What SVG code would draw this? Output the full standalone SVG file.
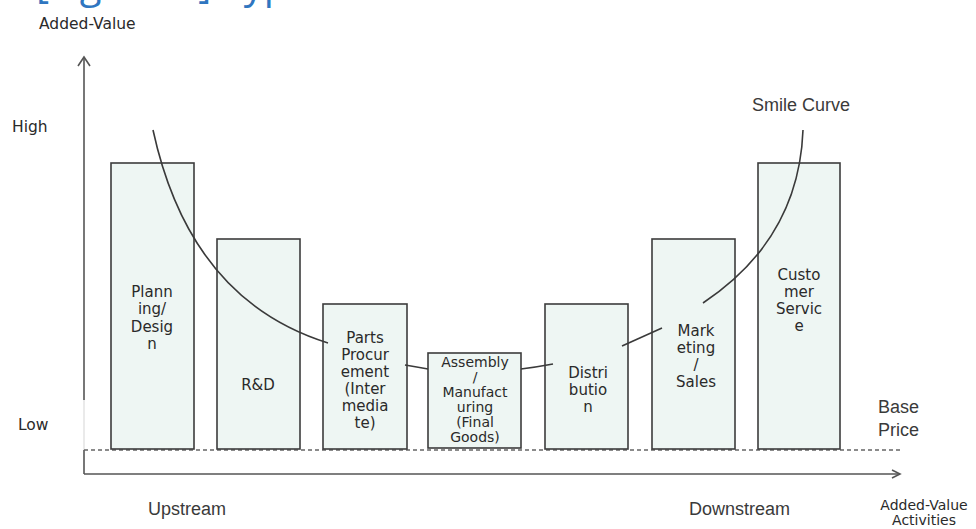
<svg xmlns="http://www.w3.org/2000/svg" width="976" height="529" viewBox="0 0 976 529">
<defs>
<style>
.bar{fill:#eef6f3;stroke:#3c3c3c;stroke-width:1.6}
.lbl{font-family:"DejaVu Sans","Noto Sans",sans-serif;font-size:15px;fill:#2a2a2a;text-anchor:middle}
.ax{font-family:"DejaVu Sans","Noto Sans",sans-serif;font-size:15.5px;fill:#2a2a2a}
.gl{font-family:"Liberation Sans",Arial,sans-serif;font-size:18px;fill:#3a3a3a}
.curve{fill:none;stroke:#3a3a3a;stroke-width:1.6}
.axis{fill:none;stroke:#555;stroke-width:1.6}
</style>
</defs>
<rect width="976" height="529" fill="#ffffff"/>
<text x="36" y="-2" font-family="Open Sans, sans-serif" font-size="40" fill="#2f76c0">[Figure 1] Typical Smile Curve</text>

<g id="axes">
<line class="axis" x1="84" y1="58" x2="84" y2="400"/>
<line x1="84" y1="400" x2="84" y2="450" stroke="#dcdcdc" stroke-width="1.2"/>
<line class="axis" x1="84" y1="450" x2="84" y2="474"/>
<polyline class="axis" points="78,66 84,57 90,66"/>
<line class="axis" x1="84" y1="474" x2="900" y2="474"/>
<polyline class="axis" points="892,470 900,474 892,478"/>
<line x1="84" y1="450" x2="902" y2="450" stroke="#666" stroke-width="1.5" stroke-dasharray="4,3"/>
<text class="ax" x="39" y="29">Added-Value</text>
<text class="ax" x="12" y="132">High</text>
<text class="ax" x="18" y="430">Low</text>
<text class="gl" x="148" y="515">Upstream</text>
<text class="gl" x="689" y="515">Downstream</text>
<text class="gl" x="878" y="413">Base</text>
<text class="gl" x="878" y="436">Price</text>
<text class="ax" x="924" y="510" text-anchor="middle" style="font-size:14px">Added-Value</text>
<text class="ax" x="924" y="525" text-anchor="middle" style="font-size:14px">Activities</text>
</g>

<g id="node-planning">
<rect class="bar" x="111" y="163" width="83" height="286"/>
<text class="lbl"><tspan x="152" y="297">Plann</tspan><tspan x="152" y="314">ing/</tspan><tspan x="152" y="332">Desig</tspan><tspan x="152" y="349">n</tspan></text>
</g>
<g id="node-rnd">
<rect class="bar" x="217" y="239" width="83" height="210"/>
<text class="lbl" x="258" y="390">R&amp;D</text>
</g>
<g id="node-parts">
<rect class="bar" x="323" y="304" width="84" height="145"/>
<text class="lbl"><tspan x="365" y="343">Parts</tspan><tspan x="365" y="360">Procur</tspan><tspan x="365" y="377">ement</tspan><tspan x="365" y="394">(Inter</tspan><tspan x="365" y="411">media</tspan><tspan x="365" y="428">te)</tspan></text>
</g>
<g id="node-assembly">
<rect class="bar" x="428" y="353" width="93" height="95"/>
<text class="lbl" style="font-size:14px"><tspan x="475" y="367">Assembly</tspan><tspan x="475" y="382">/</tspan><tspan x="475" y="397">Manufact</tspan><tspan x="475" y="412">uring</tspan><tspan x="475" y="427">(Final</tspan><tspan x="475" y="442">Goods)</tspan></text>
</g>
<g id="node-distribution">
<rect class="bar" x="545" y="304" width="83" height="145"/>
<text class="lbl"><tspan x="588" y="378">Distri</tspan><tspan x="588" y="395">butio</tspan><tspan x="588" y="412">n</tspan></text>
</g>
<g id="node-marketing">
<rect class="bar" x="652" y="239" width="83" height="210"/>
<text class="lbl"><tspan x="696" y="336">Mark</tspan><tspan x="696" y="353">eting</tspan><tspan x="696" y="370">/</tspan><tspan x="696" y="387">Sales</tspan></text>
</g>
<g id="node-customer">
<rect class="bar" x="758" y="163" width="82" height="286"/>
<text class="lbl"><tspan x="799" y="280">Custo</tspan><tspan x="799" y="297">mer</tspan><tspan x="799" y="314">Servic</tspan><tspan x="799" y="331">e</tspan></text>
</g>

<g id="connectors">
<path class="curve" d="M153,130 Q190,300 328,343"/>
<path class="curve" d="M405,365 Q417,367 428,369"/>
<path class="curve" d="M521,369 Q537,367 553,364"/>
<path class="curve" d="M622,346 L662,328"/>
<path class="curve" d="M703,303 C760,265 800,210 803,130"/>
<text class="gl" x="752" y="111">Smile Curve</text>
</g>
</svg>
